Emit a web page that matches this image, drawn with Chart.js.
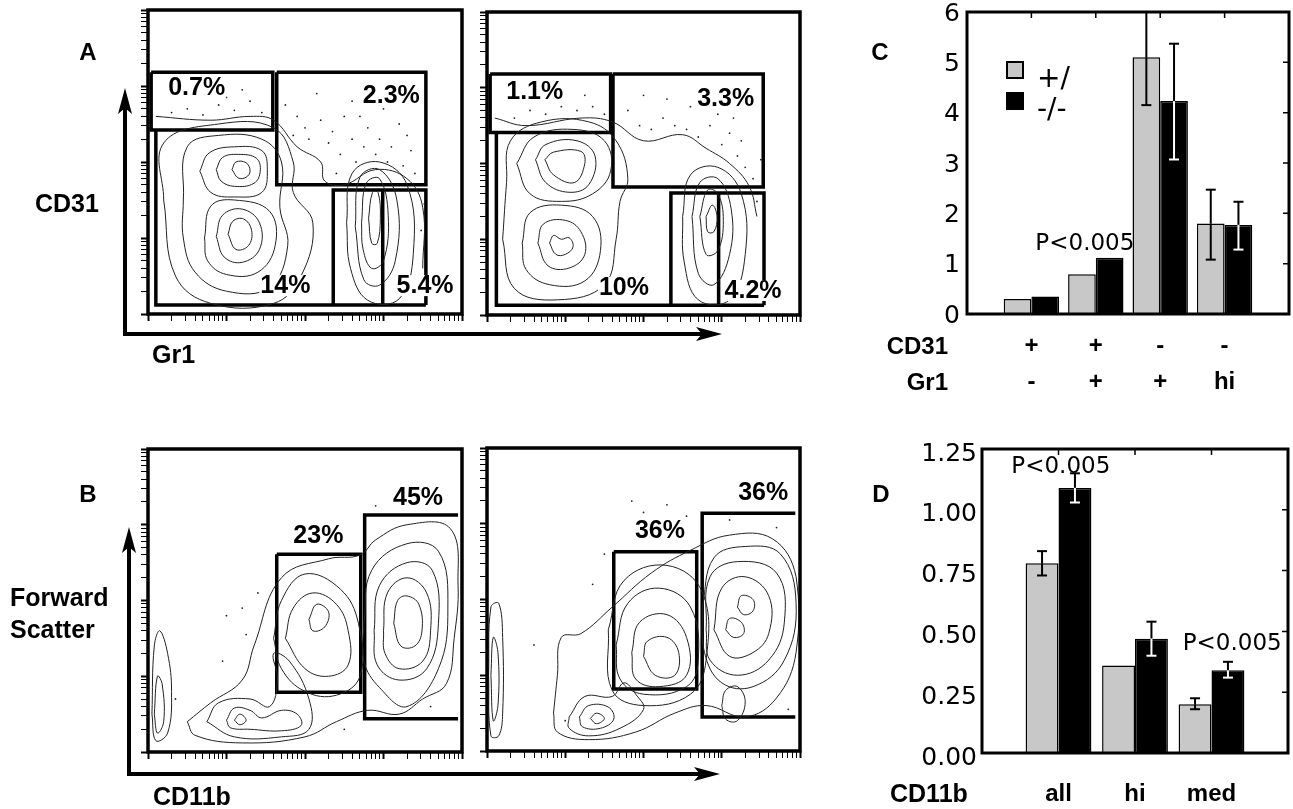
<!DOCTYPE html>
<html><head><meta charset="utf-8">
<script src="https://cdn.jsdelivr.net/npm/chart.js@4.4.1/dist/chart.umd.min.js"></script>
<style>
body{margin:0;background:#fff;width:1293px;height:809px;overflow:hidden;position:relative;font-family:"Liberation Sans",Arial,sans-serif}
canvas{position:absolute}
.t{position:absolute;font-weight:bold;font-size:25px;line-height:1;color:#000;white-space:nowrap}
svg{position:absolute;left:0;top:0}
</style></head><body>
<canvas id="fa1" width="480" height="400" style="left:0;top:0"></canvas>
<canvas id="fa2" width="340" height="400" style="left:480px;top:0"></canvas>
<canvas id="fb1" width="480" height="389" style="left:0;top:420px"></canvas>
<canvas id="fb2" width="340" height="389" style="left:480px;top:420px"></canvas>
<canvas id="cc" width="433" height="400" style="left:860px;top:0"></canvas>
<canvas id="cd" width="433" height="399" style="left:860px;top:410px"></canvas>
<svg width="1293" height="809">
 <g stroke="#000" stroke-width="4" fill="none">
  <line x1="125" y1="336" x2="125" y2="104"/><line x1="123" y1="334" x2="706" y2="334"/>
  <line x1="129" y1="776" x2="129" y2="543"/><line x1="127" y1="774" x2="704" y2="774"/>
 </g>
 <g fill="#000">
  <polygon points="125,88 118,114 125,108 132,114"/><polygon points="722,334 696,327 702,334 696,341"/>
  <polygon points="129,527 122,553 129,547 136,553"/><polygon points="720,774 694,767 700,774 694,781"/>
 </g>
</svg>
<div class="t" style="left:88px;top:52px;transform:translate(-50%,-50%);font-size:24px">A</div>
<div class="t" style="left:35px;top:203px;transform:translateY(-50%)">CD31</div>
<div class="t" style="left:152px;top:354px;transform:translateY(-50%)">Gr1</div>
<div class="t" style="left:88px;top:494px;transform:translate(-50%,-50%);font-size:24px">B</div>
<div class="t" style="left:10px;top:597px;transform:translateY(-50%)">Forward</div>
<div class="t" style="left:10px;top:629px;transform:translateY(-50%)">Scatter</div>
<div class="t" style="left:153px;top:796px;transform:translateY(-50%)">CD11b</div>
<div class="t" style="left:880px;top:52px;transform:translate(-50%,-50%);font-size:24px">C</div>
<div class="t" style="left:881px;top:494px;transform:translate(-50%,-50%);font-size:24px">D</div>
<div class="t" style="left:948px;top:346px;transform:translate(-100%,-50%);font-size:24px">CD31</div>
<div class="t" style="left:948px;top:382px;transform:translate(-100%,-50%);font-size:24px">Gr1</div>
<div class="t" style="left:890px;top:793px;transform:translateY(-50%)">CD11b</div>
<script>
// ---------------- Bar chart C ----------------
const catC = ['', ['+','-'], ['+','+'], ['-','+'], ['-','hi'], ''];
const hetC = [null, 0.30, 0.79, 5.10, 1.80, null];
const koC  = [null, 0.35, 1.12, 4.23, 1.77, null];
const hetLoC = [null, null, null, 4.15, 1.08, null];
const hetHiC = [null, null, null, 6.05, 2.47, null];
const koLoC  = [null, null, null, 3.07, 1.28, null];
const koHiC  = [null, null, null, 5.37, 2.23, null];
const legendC = ['+/', '-/-'];
const pTextC = ['P<0.005'];
const pXC = [1.83];
const pYC = [1.40];

// ---------------- Bar chart D ----------------
const catD = ['', 'all', 'hi', 'med', ''];
const hetD = [null, 0.78, 0.36, 0.20, null];
const koD  = [null, 1.09, 0.47, 0.34, null];
const hetLoD = [null, 0.73, null, 0.18, null];
const hetHiD = [null, 0.83, null, 0.225, null];
const koLoD  = [null, 1.03, 0.40, 0.31, null];
const koHiD  = [null, 1.15, 0.54, 0.375, null];
const pTextD = ['P<0.005', 'P<0.005'];
const pXD = [1.03, 3.27];
const pYD = [1.176, 0.45];

// ---------------- Flow panels (log decades 0-4) ----------------
const gatesA1 = [
 [[0.04,3.18],[1.59,3.18],[1.59,2.42],[0.04,2.42],[0.04,3.18]],
 [[1.64,3.18],[3.54,3.18],[3.54,1.70],[1.64,1.70],[1.64,3.18]],
 [[0.10,2.42],[0.10,0.12],[3.54,0.12]],
 [[2.36,0.12],[2.36,1.63],[3.54,1.63],[3.54,0.12]],
 [[2.99,1.63],[2.99,0.12]]
];
const gateTextA1 = ['0.7%','2.3%','14%','5.4%'];
const gateXA1 = [0.62, 3.10, 1.75, 3.53];
const gateYA1 = [2.99, 2.88, 0.38, 0.38];
const contA1 = [
 [[1.07,1.9],[1.12,2.0],[1.25,1.99],[1.3,1.88],[1.25,1.8],[1.15,1.79],[1.07,1.9]],
 [[0.87,1.9],[0.95,2.06],[1.15,2.1],[1.38,2.05],[1.43,1.88],[1.35,1.72],[1.1,1.68],[0.93,1.75],[0.87,1.9]],
 [[0.66,1.88],[0.78,2.12],[1.1,2.2],[1.45,2.15],[1.52,1.9],[1.45,1.6],[1.1,1.54],[0.8,1.6],[0.66,1.88]],
 [[1.02,1.05],[1.08,1.22],[1.22,1.25],[1.32,1.1],[1.28,0.9],[1.12,0.85],[1.02,1.05]],
 [[0.87,1.02],[0.95,1.3],[1.2,1.38],[1.42,1.2],[1.42,0.85],[1.2,0.68],[0.97,0.75],[0.87,1.02]],
 [[0.72,1.0],[0.8,1.42],[1.1,1.5],[1.55,1.35],[1.62,0.9],[1.4,0.55],[1.0,0.52],[0.76,0.7],[0.72,1.0]],
 [[0.45,1.5],[0.5,2.2],[0.9,2.35],[1.45,2.3],[1.7,2.0],[1.68,1.4],[1.78,0.9],[1.55,0.35],[1.0,0.3],[0.6,0.55],[0.45,1.0],[0.45,1.5]],
 [[0.2,1.5],[0.2,2.25],[0.9,2.5],[1.6,2.45],[1.85,2.0],[1.85,1.6],[2.1,1.2],[1.95,0.5],[1.6,0.14],[0.8,0.14],[0.35,0.5],[0.2,1.5]],
 [[0.1,2.6],[0.8,2.55],[1.3,2.6],[1.6,2.55],[1.9,2.2],[2.2,2.0],[2.25,1.75],[2.5,1.7],[2.9,1.9],[3.3,1.78],[3.5,1.4],[3.5,0.6]],
 [[2.81,1.26],[2.86,1.6],[2.93,1.6],[2.96,1.26],[2.92,0.93],[2.85,0.93],[2.81,1.26]],
 [[2.72,1.2],[2.78,1.72],[2.95,1.78],[3.06,1.3],[3.0,0.7],[2.85,0.6],[2.74,0.85],[2.72,1.2]],
 [[2.64,1.15],[2.7,1.8],[2.95,1.9],[3.17,1.5],[3.15,0.7],[2.95,0.38],[2.75,0.45],[2.64,1.15]],
 [[2.53,1.2],[2.6,1.85],[2.95,2.0],[3.3,1.7],[3.38,0.8],[3.2,0.2],[2.8,0.18],[2.58,0.6],[2.53,1.2]]
];
const dotsA1 = [[1.75,2.75],[1.9,2.6],[2.0,2.45],[2.05,2.3],[2.2,2.55],[2.3,2.25],[2.35,2.4],[2.45,2.1],[2.5,2.6],[2.6,2.3],
 [2.65,2.0],[2.75,2.2],[2.8,2.45],[2.9,2.1],[2.95,2.3],[3.05,2.0],[3.1,2.2],[3.2,2.5],[3.25,1.95],[3.35,2.15],
 [3.4,1.85],[2.15,2.9],[2.6,2.8],[3.0,2.7],[0.3,2.65],[0.5,2.7],[0.7,2.62],[0.9,2.75],[1.1,2.68],[1.3,2.8],
 [1.45,2.65],[0.4,2.9],[1.2,2.95],[3.52,1.45],[3.48,1.1],[2.4,1.85],[1.85,2.35],[2.7,2.6],[3.3,2.35],[1.0,2.85]];

const gatesA2 = [
 [[0.04,3.18],[1.58,3.18],[1.58,2.41],[0.04,2.41],[0.04,3.18]],
 [[1.61,3.18],[3.53,3.18],[3.53,1.69],[1.61,1.69],[1.61,3.18]],
 [[0.12,2.41],[0.12,0.13],[3.54,0.13]],
 [[2.35,0.13],[2.35,1.61],[3.54,1.61],[3.54,0.13]],
 [[2.96,1.61],[2.96,0.13]]
];
const gateTextA2 = ['1.1%','3.3%','10%','4.2%'];
const gateXA2 = [0.61, 3.05, 1.75, 3.40];
const gateYA2 = [2.96, 2.86, 0.37, 0.33];
const contA2 = [
 [[0.74,2.05],[0.85,2.15],[1.2,2.16],[1.25,2.0],[1.12,1.75],[0.85,1.85],[0.74,2.05]],
 [[0.62,2.05],[0.75,2.25],[1.15,2.3],[1.38,2.1],[1.3,1.72],[1.05,1.62],[0.75,1.75],[0.62,2.05]],
 [[0.38,2.0],[0.6,2.35],[1.1,2.45],[1.5,2.3],[1.58,1.9],[1.35,1.6],[0.95,1.5],[0.55,1.6],[0.38,2.0]],
 [[0.8,0.95],[0.85,1.05],[0.95,1.0],[1.05,1.02],[1.1,0.9],[1.0,0.8],[0.88,0.8],[0.8,0.95]],
 [[0.65,0.95],[0.72,1.2],[1.0,1.25],[1.2,1.1],[1.25,0.8],[1.05,0.62],[0.78,0.65],[0.65,0.95]],
 [[0.45,0.95],[0.55,1.35],[0.95,1.45],[1.35,1.3],[1.45,0.85],[1.25,0.45],[0.8,0.4],[0.5,0.6],[0.45,0.95]],
 [[0.2,1.0],[0.25,1.75],[0.3,2.3],[0.7,2.55],[1.3,2.55],[1.65,2.3],[1.8,1.8],[1.7,1.5],[1.65,1.0],[1.5,0.4],[0.9,0.2],[0.35,0.35],[0.2,1.0]],
 [[0.1,2.6],[0.5,2.5],[1.2,2.6],[1.6,2.55],[2.0,2.3],[2.5,2.38],[2.8,2.2],[3.1,2.0],[3.35,1.7],[3.45,1.3]],
 [[2.8,1.3],[2.88,1.45],[2.94,1.3],[2.9,1.1],[2.82,1.1],[2.8,1.3]],
 [[2.72,1.3],[2.82,1.65],[2.95,1.6],[3.02,1.25],[2.95,0.85],[2.8,0.8],[2.72,1.3]],
 [[2.62,1.3],[2.72,1.75],[2.95,1.8],[3.12,1.4],[3.1,0.8],[2.9,0.4],[2.7,0.55],[2.62,1.3]],
 [[2.5,1.3],[2.6,1.85],[2.95,1.95],[3.25,1.6],[3.3,0.8],[3.1,0.2],[2.7,0.2],[2.52,0.7],[2.5,1.3]]
];
const dotsA2 = [[1.8,2.7],[1.95,2.5],[2.1,2.45],[2.25,2.6],[2.4,2.5],[2.55,2.45],[2.7,2.35],[2.85,2.5],[3.0,2.25],[3.1,2.4],
 [3.2,2.1],[3.3,1.95],[3.4,1.8],[3.25,2.3],[2.95,2.65],[2.6,2.75],[2.3,2.85],[3.45,1.5],[0.35,2.6],[0.55,2.7],
 [0.75,2.65],[0.95,2.75],[1.15,2.7],[1.35,2.75],[1.5,2.65],[0.45,2.85],[1.25,2.9],[3.5,2.05],[3.15,2.6],[2.0,2.9]];

const gatesB1 = [
 [[1.64,2.61],[2.71,2.61],[2.71,0.79],[1.64,0.79],[1.64,2.61]],
 [[3.95,3.13],[2.76,3.13],[2.76,0.44],[3.95,0.44]]
];
const gateTextB1 = ['23%','45%'];
const gateXB1 = [2.17, 3.44];
const gateYB1 = [2.86, 3.37];
const contB1 = [
 [[3.13,1.7],[3.18,2.0],[3.3,2.06],[3.45,1.95],[3.49,1.6],[3.4,1.4],[3.22,1.4],[3.13,1.7]],
 [[3.0,1.6],[3.05,2.1],[3.3,2.3],[3.55,2.1],[3.6,1.6],[3.5,1.2],[3.2,1.1],[3.02,1.3],[3.0,1.6]],
 [[2.88,1.6],[2.95,2.2],[3.3,2.5],[3.62,2.4],[3.7,1.7],[3.55,1.1],[3.2,0.95],[2.92,1.15],[2.88,1.6]],
 [[2.75,1.7],[2.85,2.4],[3.3,2.75],[3.7,2.65],[3.82,1.9],[3.7,1.1],[3.3,0.6],[2.95,0.85],[2.75,1.2],[2.75,1.7]],
 [[2.05,1.75],[2.15,1.95],[2.3,1.85],[2.25,1.65],[2.1,1.6],[2.05,1.75]],
 [[1.75,1.5],[1.85,1.9],[2.1,2.1],[2.4,1.95],[2.55,1.6],[2.55,1.15],[2.3,1.0],[2.0,1.1],[1.75,1.5]],
 [[1.6,1.5],[1.7,2.0],[2.0,2.35],[2.45,2.15],[2.68,1.7],[2.7,1.0],[2.4,0.75],[2.0,0.8],[1.7,1.1],[1.6,1.5]],
 [[1.1,0.42],[1.17,0.5],[1.25,0.42],[1.17,0.36],[1.1,0.42]],
 [[1.0,0.42],[1.1,0.58],[1.3,0.55],[1.45,0.45],[1.7,0.55],[1.9,0.5],[1.95,0.35],[1.7,0.28],[1.3,0.3],[1.05,0.32],[1.0,0.42]],
 [[0.75,0.4],[0.9,0.65],[1.3,0.7],[1.55,0.6],[1.65,0.95],[1.6,1.3],[1.8,1.2],[2.05,0.7],[2.05,0.3],[1.7,0.2],[1.1,0.2],[0.75,0.4]],
 [[0.5,0.4],[0.8,0.65],[1.2,0.95],[1.35,1.4],[1.7,2.3],[2.3,2.55],[2.7,2.6],[2.9,2.8],[3.3,3.0],[3.85,2.95],[3.95,2.2],[3.9,1.5],[3.8,0.9],[3.5,0.7],[3.2,0.5],[2.8,0.55],[2.4,0.4],[2.0,0.2],[1.2,0.12],[0.6,0.22],[0.5,0.4]],
 [[0.05,0.5],[0.08,1.4],[0.15,1.6],[0.25,1.3],[0.3,0.8],[0.25,0.25],[0.1,0.15],[0.05,0.5]],
 [[0.08,0.5],[0.12,1.0],[0.18,0.9],[0.2,0.4],[0.12,0.25],[0.08,0.5]]
];
const dotsB1 = [[1.0,1.8],[1.25,1.55],[0.95,1.2],[1.4,2.1],[2.9,3.25],[3.6,0.6],[2.5,0.3],[1.2,1.9],[0.35,0.7]];

const gatesB2 = [
 [[1.62,2.63],[2.68,2.63],[2.68,0.82],[1.62,0.82],[1.62,2.63]],
 [[3.94,3.14],[2.75,3.14],[2.75,0.45],[3.94,0.45]]
];
const gateTextB2 = ['36%','36%'];
const gateXB2 = [2.21, 3.53];
const gateYB2 = [2.92, 3.42];
const contB2 = [
 [[3.2,1.9],[3.25,2.05],[3.4,2.0],[3.4,1.85],[3.28,1.8],[3.2,1.9]],
 [[3.05,1.6],[3.1,1.75],[3.25,1.7],[3.28,1.55],[3.15,1.5],[3.05,1.6]],
 [[2.9,1.6],[3.0,2.15],[3.3,2.3],[3.6,2.05],[3.6,1.55],[3.4,1.3],[3.1,1.25],[2.9,1.6]],
 [[2.8,1.6],[2.85,2.3],[3.2,2.5],[3.7,2.35],[3.8,1.7],[3.6,1.2],[3.2,1.0],[2.85,1.2],[2.8,1.6]],
 [[2.75,1.9],[2.9,2.55],[3.3,2.7],[3.75,2.6],[3.95,1.95],[3.8,1.2],[3.4,0.85],[3.0,0.9],[2.78,1.3],[2.75,1.9]],
 [[2.0,1.25],[2.05,1.45],[2.3,1.5],[2.45,1.3],[2.4,1.0],[2.15,1.0],[2.0,1.25]],
 [[1.85,1.3],[1.95,1.7],[2.3,1.8],[2.55,1.5],[2.55,1.0],[2.2,0.85],[1.9,0.95],[1.85,1.3]],
 [[1.65,1.4],[1.8,1.95],[2.2,2.15],[2.6,1.9],[2.7,1.2],[2.55,0.85],[2.0,0.75],[1.7,0.95],[1.65,1.4]],
 [[1.55,1.6],[1.75,2.25],[2.3,2.45],[2.75,2.1],[2.8,1.2],[2.6,0.75],[2.0,0.6],[1.6,0.8],[1.55,1.6]],
 [[1.32,0.43],[1.4,0.5],[1.5,0.43],[1.4,0.36],[1.32,0.43]],
 [[1.18,0.45],[1.3,0.6],[1.55,0.58],[1.62,0.42],[1.45,0.3],[1.22,0.32],[1.18,0.45]],
 [[1.05,0.45],[1.25,0.72],[1.6,0.72],[1.75,0.9],[1.9,0.75],[2.0,0.55],[1.7,0.3],[1.3,0.2],[1.05,0.3],[1.05,0.45]],
 [[0.85,0.5],[0.9,1.0],[0.95,1.5],[1.2,1.55],[1.6,1.9],[2.1,2.35],[2.6,2.65],[3.1,2.85],[3.65,2.8],[3.95,2.3],[3.95,1.3],[3.7,0.7],[3.3,0.45],[2.8,0.6],[2.4,0.5],[1.9,0.25],[1.3,0.15],[0.9,0.25],[0.85,0.5]],
 [[3.0,0.6],[3.05,0.8],[3.2,0.85],[3.3,0.65],[3.2,0.4],[3.05,0.42],[3.0,0.6]],
 [[0.02,1.0],[0.05,1.9],[0.15,1.95],[0.2,1.5],[0.2,0.5],[0.15,0.2],[0.05,0.2],[0.02,1.0]],
 [[0.05,1.0],[0.08,1.5],[0.14,1.3],[0.14,0.6],[0.08,0.4],[0.05,1.0]]
];
const dotsB2 = [[1.85,3.3],[2.0,3.15],[2.3,3.25],[2.55,3.1],[2.2,3.0],[1.5,2.6],[1.35,2.2],[0.6,1.4],[1.0,0.4],[3.7,2.95],[3.85,0.55],[3.1,3.05]];

// ---------------- Rendering ----------------
Chart.defaults.color = '#000';
Chart.defaults.font.family = '"Liberation Sans", Arial, sans-serif';
Chart.defaults.animation = false;

const logTicks = [];
for (let k = 0; k < 4; k++) for (let m = 1; m < 10; m++) logTicks.push(k + Math.log10(m));
logTicks.push(4);

const flowFrame = {
  id: 'flowFrame',
  afterDatasetsDraw(chart, args, o) {
    const {ctx, scales: {x, y}} = chart;
    ctx.save();
    ctx.font = 'bold 25px "Liberation Sans", Arial, sans-serif';
    ctx.textAlign = 'center'; ctx.textBaseline = 'middle';
    o.text.forEach((t, i) => {
      const px = x.getPixelForValue(o.x[i]), py = y.getPixelForValue(o.y[i]);
      const w = ctx.measureText(t).width;
      ctx.fillStyle = '#fff'; ctx.fillRect(px - w / 2 - 1, py - 10, w + 2, 21);
      ctx.fillStyle = '#000'; ctx.fillText(t, px, py + 1);
    });
    ctx.restore();
  },
  afterDraw(chart) {
    const {ctx, chartArea: a} = chart;
    ctx.save(); ctx.strokeStyle = '#000'; ctx.lineWidth = 3.5;
    ctx.strokeRect(a.left, a.top, a.right - a.left, a.bottom - a.top);
    ctx.restore();
  }
};

function flowChart(id, cont, gates, dots, text, gx, gy, pad, yW, xH) {
  const ds = [];
  ds.push({data: dots, showLine: false, pointRadius: 0.9, pointBorderWidth: 0, pointBackgroundColor: '#222'});
  cont.forEach(c => ds.push({data: c, showLine: true, pointRadius: 0, borderColor: '#222', borderWidth: 1, tension: 0.4, fill: false}));
  gates.forEach(g => ds.push({data: g, showLine: true, pointRadius: 0, borderColor: '#000', borderWidth: 3.5, tension: 0, fill: false}));
  const axis = (fitFn) => ({
    type: 'linear', min: 0, max: 4,
    afterBuildTicks(s) { s.ticks = logTicks.map(v => ({value: v})); },
    ticks: {display: false},
    grid: {display: true, drawOnChartArea: false, drawTicks: true, tickLength: 7, tickColor: '#000',
           tickWidth: c => (c.tick && Math.abs(c.tick.value - Math.round(c.tick.value)) < 1e-6) ? 2 : 1},
    border: {display: false},
    afterFit: fitFn
  });
  new Chart(document.getElementById(id), {
    type: 'scatter',
    data: {datasets: ds},
    options: {
      responsive: false, maintainAspectRatio: false,
      layout: {padding: pad},
      plugins: {legend: {display: false}, tooltip: {enabled: false}, flowFrame: {text, x: gx, y: gy}},
      scales: {x: axis(s => { s.height = xH; }), y: axis(s => { s.width = yW; })}
    },
    plugins: [flowFrame]
  });
}
flowChart('fa1', contA1, gatesA1, dotsA1, gateTextA1, gateXA1, gateYA1, {top: 10, right: 18, left: 0, bottom: 0}, 148, 86);
flowChart('fa2', contA2, gatesA2, dotsA2, gateTextA2, gateXA2, gateYA2, {top: 12, right: 20, left: 0, bottom: 0}, 7, 85);
flowChart('fb1', contB1, gatesB1, dotsB1, gateTextB1, gateXB1, gateYB1, {top: 29, right: 18, left: 0, bottom: 0}, 148, 57);
flowChart('fb2', contB2, gatesB2, dotsB2, gateTextB2, gateXB2, gateYB2, {top: 28, right: 20, left: 0, bottom: 0}, 7, 58);

const barDeco = {
  id: 'barDeco',
  afterDatasetsDraw(chart, args, o) {
    const {ctx, chartArea: a, scales: {x, y}} = chart;
    ctx.save();
    ctx.beginPath(); ctx.rect(a.left, a.top, a.right - a.left, a.bottom - a.top); ctx.clip();
    ctx.lineWidth = 2;
    const seg = (x1, y1, x2, y2, c) => { ctx.strokeStyle = c; ctx.beginPath(); ctx.moveTo(x1, y1); ctx.lineTo(x2, y2); ctx.stroke(); };
    o.err.forEach((b, di) => {
      const meta = chart.getDatasetMeta(di);
      b.lo.forEach((lo, i) => {
        if (lo == null) return;
        const el = meta.data[i], px = el.x, top = el.y;
        const yl = y.getPixelForValue(lo), yh = y.getPixelForValue(b.hi[i]);
        if (yh < top) seg(px, yh, px, Math.min(yl, top), '#000');
        if (yl > top) seg(px, Math.max(yh, top), px, yl, b.inner);
        seg(px - 5, yh, px + 5, yh, yh < top ? '#000' : b.inner);
        seg(px - 5, yl, px + 5, yl, yl < top ? '#000' : b.inner);
      });
    });
    ctx.restore();
    ctx.save();
    ctx.font = '23px "DejaVu Sans", sans-serif';
    ctx.textAlign = 'center'; ctx.textBaseline = 'middle'; ctx.fillStyle = '#000';
    o.p.text.forEach((t, i) => ctx.fillText(t, x.getPixelForValue(o.p.x[i]), y.getPixelForValue(o.p.y[i])));
    if (o.legend) {
      ctx.font = '28px "DejaVu Sans", sans-serif'; ctx.textAlign = 'left';
      const cols = ['#c8c8c8', '#000'];
      o.legend.forEach((t, i) => {
        const ly = a.top + 50 + i * 31;
        ctx.fillStyle = cols[i]; ctx.fillRect(a.left + 40, ly, 16, 16);
        ctx.strokeStyle = '#000'; ctx.lineWidth = 2; ctx.strokeRect(a.left + 40, ly, 16, 16);
        ctx.fillStyle = '#000'; ctx.fillText(t, a.left + 70, ly + 18);
      });
    }
    ctx.restore();
  },
  afterDraw(chart) {
    const {ctx, chartArea: a, scales: {x, y}} = chart;
    ctx.save(); ctx.strokeStyle = '#000'; ctx.lineWidth = 3;
    ctx.strokeRect(a.left, a.top, a.right - a.left, a.bottom - a.top);
    ctx.lineWidth = 1.5; ctx.beginPath();
    y.ticks.forEach(t => { const py = y.getPixelForValue(t.value); ctx.moveTo(a.right, py); ctx.lineTo(a.right - 6, py); });
    x.ticks.forEach((t, i) => { if (i === 0 || i === x.ticks.length - 1) return; const px = x.getPixelForTick(i); ctx.moveTo(px, a.top); ctx.lineTo(px, a.top + 6); });
    ctx.stroke(); ctx.restore();
  }
};

function barChart(id, cats, het, ko, errs, p, legend, yOpt, yTick, pad, yW, xH, xTick, lh, catPct) {
  new Chart(document.getElementById(id), {
    type: 'bar',
    data: {labels: cats, datasets: [
      {data: het, backgroundColor: '#c8c8c8', borderColor: '#000', borderWidth: 1.5, categoryPercentage: catPct, barPercentage: 1},
      {data: ko, backgroundColor: '#000', borderColor: '#000', borderWidth: 1.5, categoryPercentage: catPct, barPercentage: 1}
    ]},
    options: {
      responsive: false, maintainAspectRatio: false,
      layout: {padding: pad},
      plugins: {legend: {display: false}, tooltip: {enabled: false}, barDeco: {err: errs, p, legend}},
      scales: {
        x: {offset: false, grid: {display: false, drawTicks: true, tickLength: xTick}, border: {display: false},
            ticks: {autoSkip: false, maxRotation: 0, padding: 0, font: {size: 24, weight: 'bold', lineHeight: lh}},
            afterFit(s) { s.height = xH; }},
        y: Object.assign({grid: {display: false, drawTicks: true, tickLength: yTick}, border: {display: false},
            afterFit(s) { s.width = yW; }}, yOpt)
      }
    },
    plugins: [barDeco]
  });
}
barChart('cc', catC, hetC, koC,
  [{lo: hetLoC, hi: hetHiC, inner: '#000'}, {lo: koLoC, hi: koHiC, inner: '#fff'}],
  {text: pTextC, x: pXC, y: pYC}, legendC,
  {min: 0, max: 6, ticks: {stepSize: 1, padding: 0, labelOffset: 2, font: {family: '"DejaVu Sans", sans-serif', size: 25, lineHeight: 0.9}}}, 7,
  {top: 12, right: 4, left: 0, bottom: 0}, 107, 86, 14, 1.5, 0.86);
barChart('cd', catD, hetD, koD,
  [{lo: hetLoD, hi: hetHiD, inner: '#000'}, {lo: koLoD, hi: koHiD, inner: '#fff'}],
  {text: pTextD, x: pXD, y: pYD}, null,
  {min: 0, max: 1.25, ticks: {stepSize: 0.25, padding: 0, labelOffset: 5, callback: v => v.toFixed(2), font: {family: '"DejaVu Sans", sans-serif', size: 25, lineHeight: 0.9}}}, 5,
  {top: 39, right: 5, left: 0, bottom: 0}, 122, 56, 27, 1.2, 0.86);
</script>
</body></html>
